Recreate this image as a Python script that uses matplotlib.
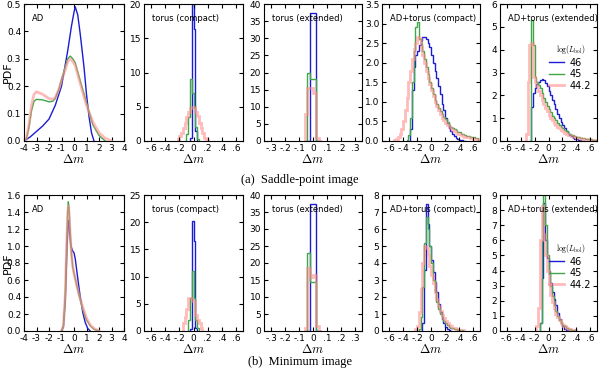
import numpy as np
import matplotlib
matplotlib.use("Agg")
import matplotlib.pyplot as plt

plt.rcParams['mathtext.fontset'] = 'cm'
plt.rcParams['font.size'] = 6.5

BLUE = '#1c1cd2'
GREEN = '#3fa64a'
PINK = '#ff8c8c'
labels = ['46', '45', '44.2']

# ---------------- top row: saddle-point image ----------------
# AD (smooth curves)
ad_s_x_blue = [-4, -3.5, -3, -2.5, -2, -1.5, -1, -0.5, -0.2, 0, 0.1, 0.3, 0.5, 0.8, 1.0, 1.2, 1.4, 1.6]
ad_s_y_blue = [0, 0.015, 0.035, 0.055, 0.08, 0.13, 0.2, 0.33, 0.42, 0.47, 0.49, 0.46, 0.39, 0.27, 0.17, 0.09, 0.03, 0]
ad_s_x_green = [-4, -3.8, -3.6, -3.4, -3.2, -3, -2.5, -2, -1.7, -1.5, -1.2, -1, -0.7, -0.5, -0.3, -0.1, 0.1, 0.5, 1.0, 1.5, 2.0, 2.5]
ad_s_y_green = [0, 0.01, 0.05, 0.11, 0.145, 0.152, 0.15, 0.143, 0.145, 0.155, 0.19, 0.225, 0.27, 0.3, 0.31, 0.3, 0.285, 0.22, 0.14, 0.06, 0.02, 0]
ad_s_x_pink = [-4, -3.8, -3.6, -3.4, -3.2, -3, -2.5, -2, -1.7, -1.5, -1.2, -1, -0.7, -0.5, -0.3, -0.1, 0.1, 0.5, 1.0, 1.5, 2.0, 2.5, 3.0]
ad_s_y_pink = [0, 0.01, 0.06, 0.13, 0.17, 0.18, 0.17, 0.155, 0.152, 0.158, 0.19, 0.22, 0.26, 0.29, 0.3, 0.29, 0.275, 0.21, 0.13, 0.07, 0.03, 0.01, 0]

# torus (compact), bins of 0.025
tc_s_start = [-0.05, -0.1, -0.225]
tc_s_blue = [0.5, 24, 16.3, 1.5]
tc_s_green = [1.0, 3.5, 9.0, 7.0, 5.0, 2.0, 0.3]
tc_s_pink = [0.3, 0.7, 1.2, 1.9, 2.7, 3.5, 4.3, 4.8, 5.0, 4.9, 4.3, 3.6, 2.7, 1.9, 1.1, 0.5, 0.2]

# torus (extended), bins of 0.02 starting at -0.06
te_s_blue = [0, 0, 37.5, 37.5, 0, 0]
te_s_green = [0, 20, 18, 18, 0, 0]
te_s_pink = [8, 15.5, 15.5, 14, 1, 0]

# AD+torus (compact), bins of 0.025
atc_s_start = [-0.3, -0.35, -0.525]
atc_s_blue = [0.3, 1.3, 1.9, 2.2, 2.3, 2.45, 2.55, 2.65, 2.65, 2.6, 2.5, 2.4, 2.2, 2.0, 1.8, 1.6,
              1.4, 1.2, 0.95, 0.8, 0.6, 0.45, 0.33, 0.25, 0.17, 0.12, 0.08, 0.05, 0.03, 0.02, 0.01, 0]
atc_s_green = [0.02, 0.15, 0.6, 1.5, 2.3, 2.9, 3.05, 2.6, 2.5, 2.3, 2.1, 1.9, 1.7, 1.5, 1.35, 1.2, 1.05,
               0.95, 0.85, 0.77, 0.7, 0.62, 0.55, 0.48, 0.42, 0.37, 0.33, 0.3, 0.27, 0.24, 0.22, 0.19,
               0.17, 0.15, 0.14, 0.12, 0.11, 0.1, 0.09, 0.08, 0.07]
atc_s_pink = [0.02, 0.05, 0.1, 0.18, 0.3, 0.5, 0.8, 1.1, 1.5, 1.8, 2.1, 2.35, 2.5, 2.65, 2.6, 2.4, 2.2,
              2.0, 1.8, 1.6, 1.45, 1.3, 1.15, 1.0, 0.9, 0.8, 0.7, 0.6, 0.53, 0.47, 0.41, 0.36, 0.32,
              0.28, 0.25, 0.22, 0.19, 0.17, 0.15, 0.13, 0.11, 0.1, 0.09, 0.08, 0.07, 0.06, 0.05, 0.05]

# AD+torus (extended), bins of 0.025
ate_s_start = [-0.275, -0.25, -0.325]
ate_s_blue = [0, 1.5, 2.1, 2.3, 2.5, 2.6, 2.65, 2.7, 2.65, 2.55, 2.4, 2.2, 2.0, 1.8, 1.6, 1.4, 1.2,
              1.0, 0.85, 0.7, 0.55, 0.45, 0.35, 0.27, 0.2, 0.14, 0.1, 0.07, 0.05, 0.03, 0.02, 0]
ate_s_green = [5.3, 4.2, 2.8, 2.6, 2.45, 2.3, 2.1, 1.9, 1.7, 1.55, 1.4, 1.25, 1.1, 1.0, 0.9, 0.8, 0.7,
               0.62, 0.55, 0.48, 0.42, 0.37, 0.32, 0.28, 0.25, 0.22, 0.19, 0.17, 0.15, 0.13, 0.11,
               0.1, 0.09, 0.08, 0.07, 0.06, 0.05, 0.04]
ate_s_pink = [0.3, 2.6, 4.2, 4.3, 2.8, 2.6, 2.4, 2.2, 2.0, 1.8, 1.6, 1.45, 1.3, 1.15, 1.0, 0.9, 0.8,
              0.7, 0.62, 0.55, 0.48, 0.42, 0.37, 0.32, 0.28, 0.25, 0.22, 0.19, 0.17, 0.15, 0.13,
              0.11, 0.1, 0.09, 0.08, 0.07, 0.06, 0.05, 0.04, 0.04]

# ---------------- bottom row: minimum image ----------------
ad_m_x_blue = [-1.0, -0.85, -0.7, -0.6, -0.5, -0.45, -0.35, -0.25, -0.1, 0, 0.1, 0.3, 0.5, 0.7, 0.9, 1.1, 1.3]
ad_m_y_blue = [0, 0.05, 0.35, 0.8, 1.2, 1.3, 1.15, 1.0, 0.94, 0.92, 0.85, 0.62, 0.4, 0.22, 0.1, 0.03, 0]
ad_m_x_green = [-1.0, -0.85, -0.7, -0.6, -0.5, -0.45, -0.4, -0.3, -0.2, -0.1, 0, 0.2, 0.4, 0.7, 1.0, 1.3, 1.6, 2.0]
ad_m_y_green = [0, 0.05, 0.4, 0.95, 1.42, 1.52, 1.45, 1.15, 0.9, 0.75, 0.68, 0.55, 0.42, 0.26, 0.13, 0.06, 0.02, 0]
ad_m_x_pink = [-1.0, -0.85, -0.7, -0.6, -0.5, -0.45, -0.4, -0.3, -0.2, -0.1, 0, 0.2, 0.4, 0.7, 1.0, 1.3, 1.6, 2.0]
ad_m_y_pink = [0, 0.06, 0.42, 0.95, 1.38, 1.47, 1.4, 1.12, 0.9, 0.76, 0.68, 0.55, 0.43, 0.28, 0.15, 0.07, 0.03, 0]

tc_m_start = [-0.05, -0.075, -0.15]
tc_m_blue = [0.3, 20.3, 16.5, 0.5]
tc_m_green = [2.0, 6.0, 11.0, 6.0, 2.0, 0.5]
tc_m_pink = [1.5, 2.5, 4.0, 6.0, 6.0, 5.5, 5.5, 3.0, 2.0, 1.5, 0.5, 0]

te_m_blue = [0, 0, 37.5, 37.5, 0, 0]
te_m_green = [0, 23, 14.5, 14.5, 0, 0]
te_m_pink = [1, 18.5, 16, 16.5, 1.5, 0]

atc_m_start = [-0.125, -0.175, -0.225]
atc_m_blue = [0.5, 3.6, 7.5, 6.3, 5.0, 4.2, 3.5, 2.9, 2.3, 1.6, 1.1, 0.7, 0.45, 0.25, 0.12, 0.05, 0]
atc_m_green = [0.1, 0.8, 2.6, 5.2, 6.7, 6.0, 5.0, 4.0, 3.0, 2.3, 1.7, 1.3, 1.0, 0.8, 0.6, 0.45, 0.35,
               0.25, 0.2, 0.15, 0.12, 0.1, 0.07, 0.05, 0.03]
atc_m_pink = [0.1, 0.3, 1.1, 2.5, 4.0, 5.0, 4.9, 4.5, 3.8, 3.3, 2.8, 2.3, 1.9, 1.5, 1.2, 0.95, 0.75,
              0.6, 0.45, 0.35, 0.27, 0.2, 0.15, 0.11, 0.08, 0.06, 0.04, 0.03]

ate_m_start = [-0.125, -0.125, -0.175]
ate_m_blue = [0.5, 3.5, 8.5, 6.0, 4.8, 4.0, 3.2, 2.6, 2.1, 1.7, 1.2, 0.8, 0.5, 0.3, 0.15, 0.08, 0.03, 0]
ate_m_green = [0.5, 6.0, 9.5, 7.0, 5.0, 3.8, 3.0, 2.3, 1.7, 1.3, 1.0, 0.75, 0.55, 0.4, 0.3, 0.22, 0.16,
               0.12, 0.09, 0.06, 0.04]
ate_m_pink = [0.3, 1.5, 6.0, 8.3, 6.4, 5.0, 4.0, 3.1, 2.4, 1.9, 1.5, 1.15, 0.9, 0.7, 0.52, 0.4, 0.3,
              0.22, 0.16, 0.12, 0.09, 0.06, 0.04]


def stairs(ax, start, width, vals, color, lw, alpha=1.0):
    edges = start + width * np.arange(len(vals) + 1)
    ax.stairs(vals, edges, color=color, lw=lw, alpha=alpha, baseline=0)


def hist3(ax, starts, width, blue, green, pink):
    stairs(ax, starts[0], width, blue, BLUE, 1.0)
    stairs(ax, starts[1], width, green, GREEN, 1.0)
    stairs(ax, starts[2], width, pink, PINK, 2.0, 0.6)


def style(ax, title, xlim, xticks, xlabs, ylim, yticks, ylabs):
    ax.set_xlim(*xlim)
    ax.set_ylim(*ylim)
    ax.set_xticks(xticks)
    ax.set_xticklabels(xlabs)
    ax.set_yticks(yticks)
    ax.set_yticklabels(ylabs)
    ax.tick_params(direction='in', top=True, right=True, labelsize=6.5, pad=2, length=3)
    ax.set_xlabel(r'$\Delta m$', fontsize=9, labelpad=0)
    ax.text(0.08, 0.93, title, transform=ax.transAxes, fontsize=6, va='top')


fig = plt.figure(figsize=(6, 3.68), dpi=100)
lefts = [24, 144, 264, 382, 500]
widths = [100, 99, 98, 98, 97]
row_tops = [4, 195]
row_h = [137, 136]
axes = []
for r in range(2):
    row = []
    for c in range(5):
        b = 1 - (row_tops[r] + row_h[r]) / 368
        row.append(fig.add_axes([lefts[c] / 600, b, widths[c] / 600, row_h[r] / 368]))
    axes.append(row)

big_t = [-4, -3, -2, -1, 0, 1, 2, 3, 4]
big_l = ['-4', '-3', '-2', '-1', '0', '1', '2', '3', '4']
mid_t = [-0.6, -0.4, -0.2, 0, 0.2, 0.4, 0.6]
mid_l = ['-.6', '-.4', '-.2', '0', '.2', '.4', '.6']
sm_t = [-0.3, -0.2, -0.1, 0, 0.1, 0.2, 0.3]
sm_l = ['-.3', '-.2', '-.1', '0', '.1', '.2', '.3']

# top row
ax = axes[0][0]
ax.plot(ad_s_x_blue, ad_s_y_blue, color=BLUE, lw=1.0)
ax.plot(ad_s_x_green, ad_s_y_green, color=GREEN, lw=1.0)
ax.plot(ad_s_x_pink, ad_s_y_pink, color=PINK, lw=2.0, alpha=0.6)
yt = [0, 0.1, 0.2, 0.3, 0.4, 0.5]
style(ax, 'AD', (-4, 4), big_t, big_l, (0, 0.5), yt, ['%.1f' % v for v in yt])
ax.set_ylabel('PDF', fontsize=8)
ax.yaxis.set_label_coords(-0.115, 0.5)

ax = axes[0][1]
hist3(ax, tc_s_start, 0.025, tc_s_blue, tc_s_green, tc_s_pink)
yt = [0, 5, 10, 15, 20]
style(ax, 'torus (compact)', (-0.7, 0.7), mid_t, mid_l, (0, 20), yt, [str(v) for v in yt])

ax = axes[0][2]
hist3(ax, [-0.06] * 3, 0.02, te_s_blue, te_s_green, te_s_pink)
yt = list(range(0, 45, 5))
style(ax, 'torus (extended)', (-0.35, 0.35), sm_t, sm_l, (0, 40), yt, [str(v) for v in yt])

ax = axes[0][3]
hist3(ax, atc_s_start, 0.025, atc_s_blue, atc_s_green, atc_s_pink)
yt = [0, 0.5, 1, 1.5, 2, 2.5, 3, 3.5]
style(ax, 'AD+torus (compact)', (-0.7, 0.7), mid_t, mid_l, (0, 3.5), yt, ['%.1f' % v for v in yt])

ax = axes[0][4]
hist3(ax, ate_s_start, 0.025, ate_s_blue, ate_s_green, ate_s_pink)
yt = list(range(0, 7))
style(ax, 'AD+torus (extended)', (-0.7, 0.7), mid_t, mid_l, (0, 6), yt, [str(v) for v in yt])

# bottom row
ax = axes[1][0]
ax.plot(ad_m_x_blue, ad_m_y_blue, color=BLUE, lw=1.0)
ax.plot(ad_m_x_green, ad_m_y_green, color=GREEN, lw=1.0)
ax.plot(ad_m_x_pink, ad_m_y_pink, color=PINK, lw=2.0, alpha=0.6)
yt = [0, 0.2, 0.4, 0.6, 0.8, 1.0, 1.2, 1.4, 1.6]
style(ax, 'AD', (-4, 4), big_t, big_l, (0, 1.6), yt, ['%.1f' % v for v in yt])
ax.set_ylabel('PDF', fontsize=8)
ax.yaxis.set_label_coords(-0.115, 0.5)

ax = axes[1][1]
hist3(ax, tc_m_start, 0.025, tc_m_blue, tc_m_green, tc_m_pink)
yt = [0, 5, 10, 15, 20, 25]
style(ax, 'torus (compact)', (-0.7, 0.7), mid_t, mid_l, (0, 25), yt, [str(v) for v in yt])

ax = axes[1][2]
hist3(ax, [-0.06] * 3, 0.02, te_m_blue, te_m_green, te_m_pink)
yt = list(range(0, 45, 5))
style(ax, 'torus (extended)', (-0.35, 0.35), sm_t, sm_l, (0, 40), yt, [str(v) for v in yt])

ax = axes[1][3]
hist3(ax, atc_m_start, 0.025, atc_m_blue, atc_m_green, atc_m_pink)
yt = list(range(0, 9))
style(ax, 'AD+torus (compact)', (-0.7, 0.7), mid_t, mid_l, (0, 8), yt, [str(v) for v in yt])

ax = axes[1][4]
hist3(ax, ate_m_start, 0.025, ate_m_blue, ate_m_green, ate_m_pink)
yt = list(range(0, 10))
style(ax, 'AD+torus (extended)', (-0.7, 0.7), mid_t, mid_l, (0, 9), yt, [str(v) for v in yt])

# legends
handles = [plt.Line2D([], [], color=BLUE, lw=1.0),
           plt.Line2D([], [], color=GREEN, lw=1.0),
           plt.Line2D([], [], color=PINK, lw=2.0, alpha=0.6)]
for r, yanc in [(0, 0.72), (1, 0.66)]:
    leg = axes[r][4].legend(handles, labels, title=r'$\log(L_{\rm bol})$', loc='upper left',
                            bbox_to_anchor=(0.5, yanc), frameon=False, fontsize=7,
                            title_fontsize=5.5, handlelength=1.5, handletextpad=0.6,
                            labelspacing=0.15, borderpad=0.1, borderaxespad=0)

fig.text(0.5, 1 - 180 / 368, '(a)  Saddle-point image', ha='center', va='center',
         fontsize=9, family='Liberation Serif')
fig.text(0.5, 1 - 362 / 368, '(b)  Minimum image', ha='center', va='center',
         fontsize=9, family='Liberation Serif')

fig.savefig('out.png', dpi=100)
